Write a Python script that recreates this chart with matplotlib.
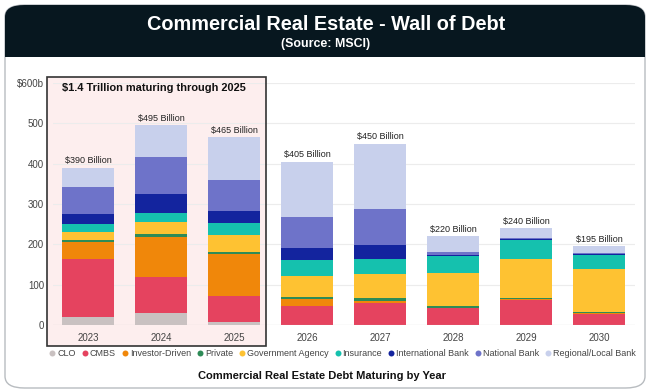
import matplotlib.pyplot as plt
import numpy as np
from matplotlib.patches import FancyBboxPatch, Rectangle

years = ["2023", "2024", "2025", "2026", "2027", "2028", "2029", "2030"]
totals = [390, 495, 465, 405, 450, 220, 240, 195]

lenders = ["CLO", "CMBS", "Investor-Driven", "Private", "Government Agency",
           "Insurance", "International Bank", "National Bank", "Regional/Local Bank"]
colors = ["#c9c1c1", "#e5435f", "#f0870a", "#2e8b57", "#fec232",
          "#15c1ae", "#13249e", "#6e73c9", "#c8d0ec"]

clo = [20, 29, 8, 1, 0, 0, 0, 0]
cmbs = [143, 91, 65, 47, 54, 42, 63, 28]
investor = [43, 99, 103, 17, 6, 1, 1, 1]
private = [4, 6, 5, 4, 7, 3, 3, 3]
government = [20, 31, 42, 52, 59, 83, 97, 106]
insurance = [20, 22, 31, 40, 38, 41, 46, 36]
international = [24, 46, 29, 29, 34, 3, 2, 1]
national = [67, 93, 76, 78, 89, 7, 3, 3]
regional = [49, 78, 106, 137, 163, 40, 25, 17]

series = [clo, cmbs, investor, private, government,
          insurance, international, national, regional]

plt.rcParams["font.family"] = ["Liberation Sans", "DejaVu Sans"]

fig = plt.figure(figsize=(6.52, 3.92), dpi=100)
W, H = 652, 392


def fx(px):
    return px / W


def fy(py):
    return 1 - py / H


# card + dark header
card = FancyBboxPatch((fx(5), fy(388)), fx(640), 383 / H,
                      boxstyle="round,pad=0,rounding_size=0.03",
                      transform=fig.transFigure, facecolor="white",
                      edgecolor="#b8bcc0", linewidth=1.0, zorder=-3)
fig.patches.append(card)
header = FancyBboxPatch((fx(5), fy(57)), fx(640), 52 / H,
                        boxstyle="round,pad=0,rounding_size=0.03",
                        transform=fig.transFigure, facecolor="#07171f",
                        edgecolor="none", zorder=-2)
fig.patches.append(header)
fig.patches.append(Rectangle((fx(5), fy(57)), fx(640), 25 / H,
                             transform=fig.transFigure, facecolor="#07171f",
                             edgecolor="none", zorder=-2))

fig.text(0.5, fy(24), "Commercial Real Estate - Wall of Debt", color="white",
         fontsize=14.3, fontweight="bold", ha="center", va="center")
fig.text(0.5, fy(44), "(Source: MSCI)", color="white",
         fontsize=8.9, fontweight="bold", ha="center", va="center")

# highlight box for 2023-2025 (fill behind the bars)
fig.patches.append(Rectangle((fx(47), fy(346)), fx(266 - 47), (346 - 77) / H,
                             transform=fig.transFigure, facecolor="#fdeeee",
                             edgecolor="none", zorder=-1))

ax = fig.add_axes([fx(53), fy(325), fx(635 - 53), (325 - 83) / H])
ax.set_facecolor("none")
ax.set_zorder(1)

x = np.arange(len(years))
bottom = np.zeros(len(years))
for name, vals, c in zip(lenders, series, colors):
    ax.bar(x, vals, width=0.71, bottom=bottom, color=c, label=name, zorder=3)
    bottom += np.array(vals)

for xi, top, t in zip(x, bottom, totals):
    ax.text(xi, top + 6, f"${t} Billion", ha="center", va="bottom",
            fontsize=6.5, color="#222222", zorder=5)

ax.set_xlim(-0.48, 7.49)
ax.set_ylim(0, 600)
ax.set_xticks(x)
ax.set_xticklabels(years)
ax.set_yticks([0, 100, 200, 300, 400, 500, 600])
ax.set_yticklabels(["0", "100", "200", "300", "400", "500", "$600b"])
ax.tick_params(axis="both", length=0, labelsize=7, colors="#444444")
ax.tick_params(axis="x", pad=6)
ax.tick_params(axis="y", pad=6.5)
ax.grid(axis="y", color="#ececec", linewidth=0.8, zorder=0)
for s in ax.spines.values():
    s.set_visible(False)
ax.axhline(0, color="#cccccc", linewidth=0.8, zorder=4)

border = Rectangle((fx(47), fy(346)), fx(266 - 47), (346 - 77) / H,
                   transform=fig.transFigure, facecolor="none",
                   edgecolor="#333333", linewidth=1.2, zorder=6)
fig.patches.append(border)
fig.text(fx(62), fy(88), "$1.4 Trillion maturing through 2025",
         fontsize=7.9, fontweight="bold", color="#111111", ha="left",
         va="center", zorder=7)

handles = [plt.Line2D([], [], marker="o", linestyle="none", markersize=4.3,
                      markerfacecolor=c, markeredgecolor="none")
           for c in colors]
fig.legend(handles, lenders, loc="center", bbox_to_anchor=(fx(342), fy(354)),
           ncol=len(lenders), frameon=False, fontsize=6.5,
           handletextpad=0.1, columnspacing=0.55, handlelength=0.9,
           labelcolor="#444444", borderpad=0, borderaxespad=0)

fig.text(fx(322), fy(376), "Commercial Real Estate Debt Maturing by Year",
         fontsize=8, fontweight="bold", color="#111111", ha="center",
         va="center")

fig.savefig("out.png", dpi=100)
